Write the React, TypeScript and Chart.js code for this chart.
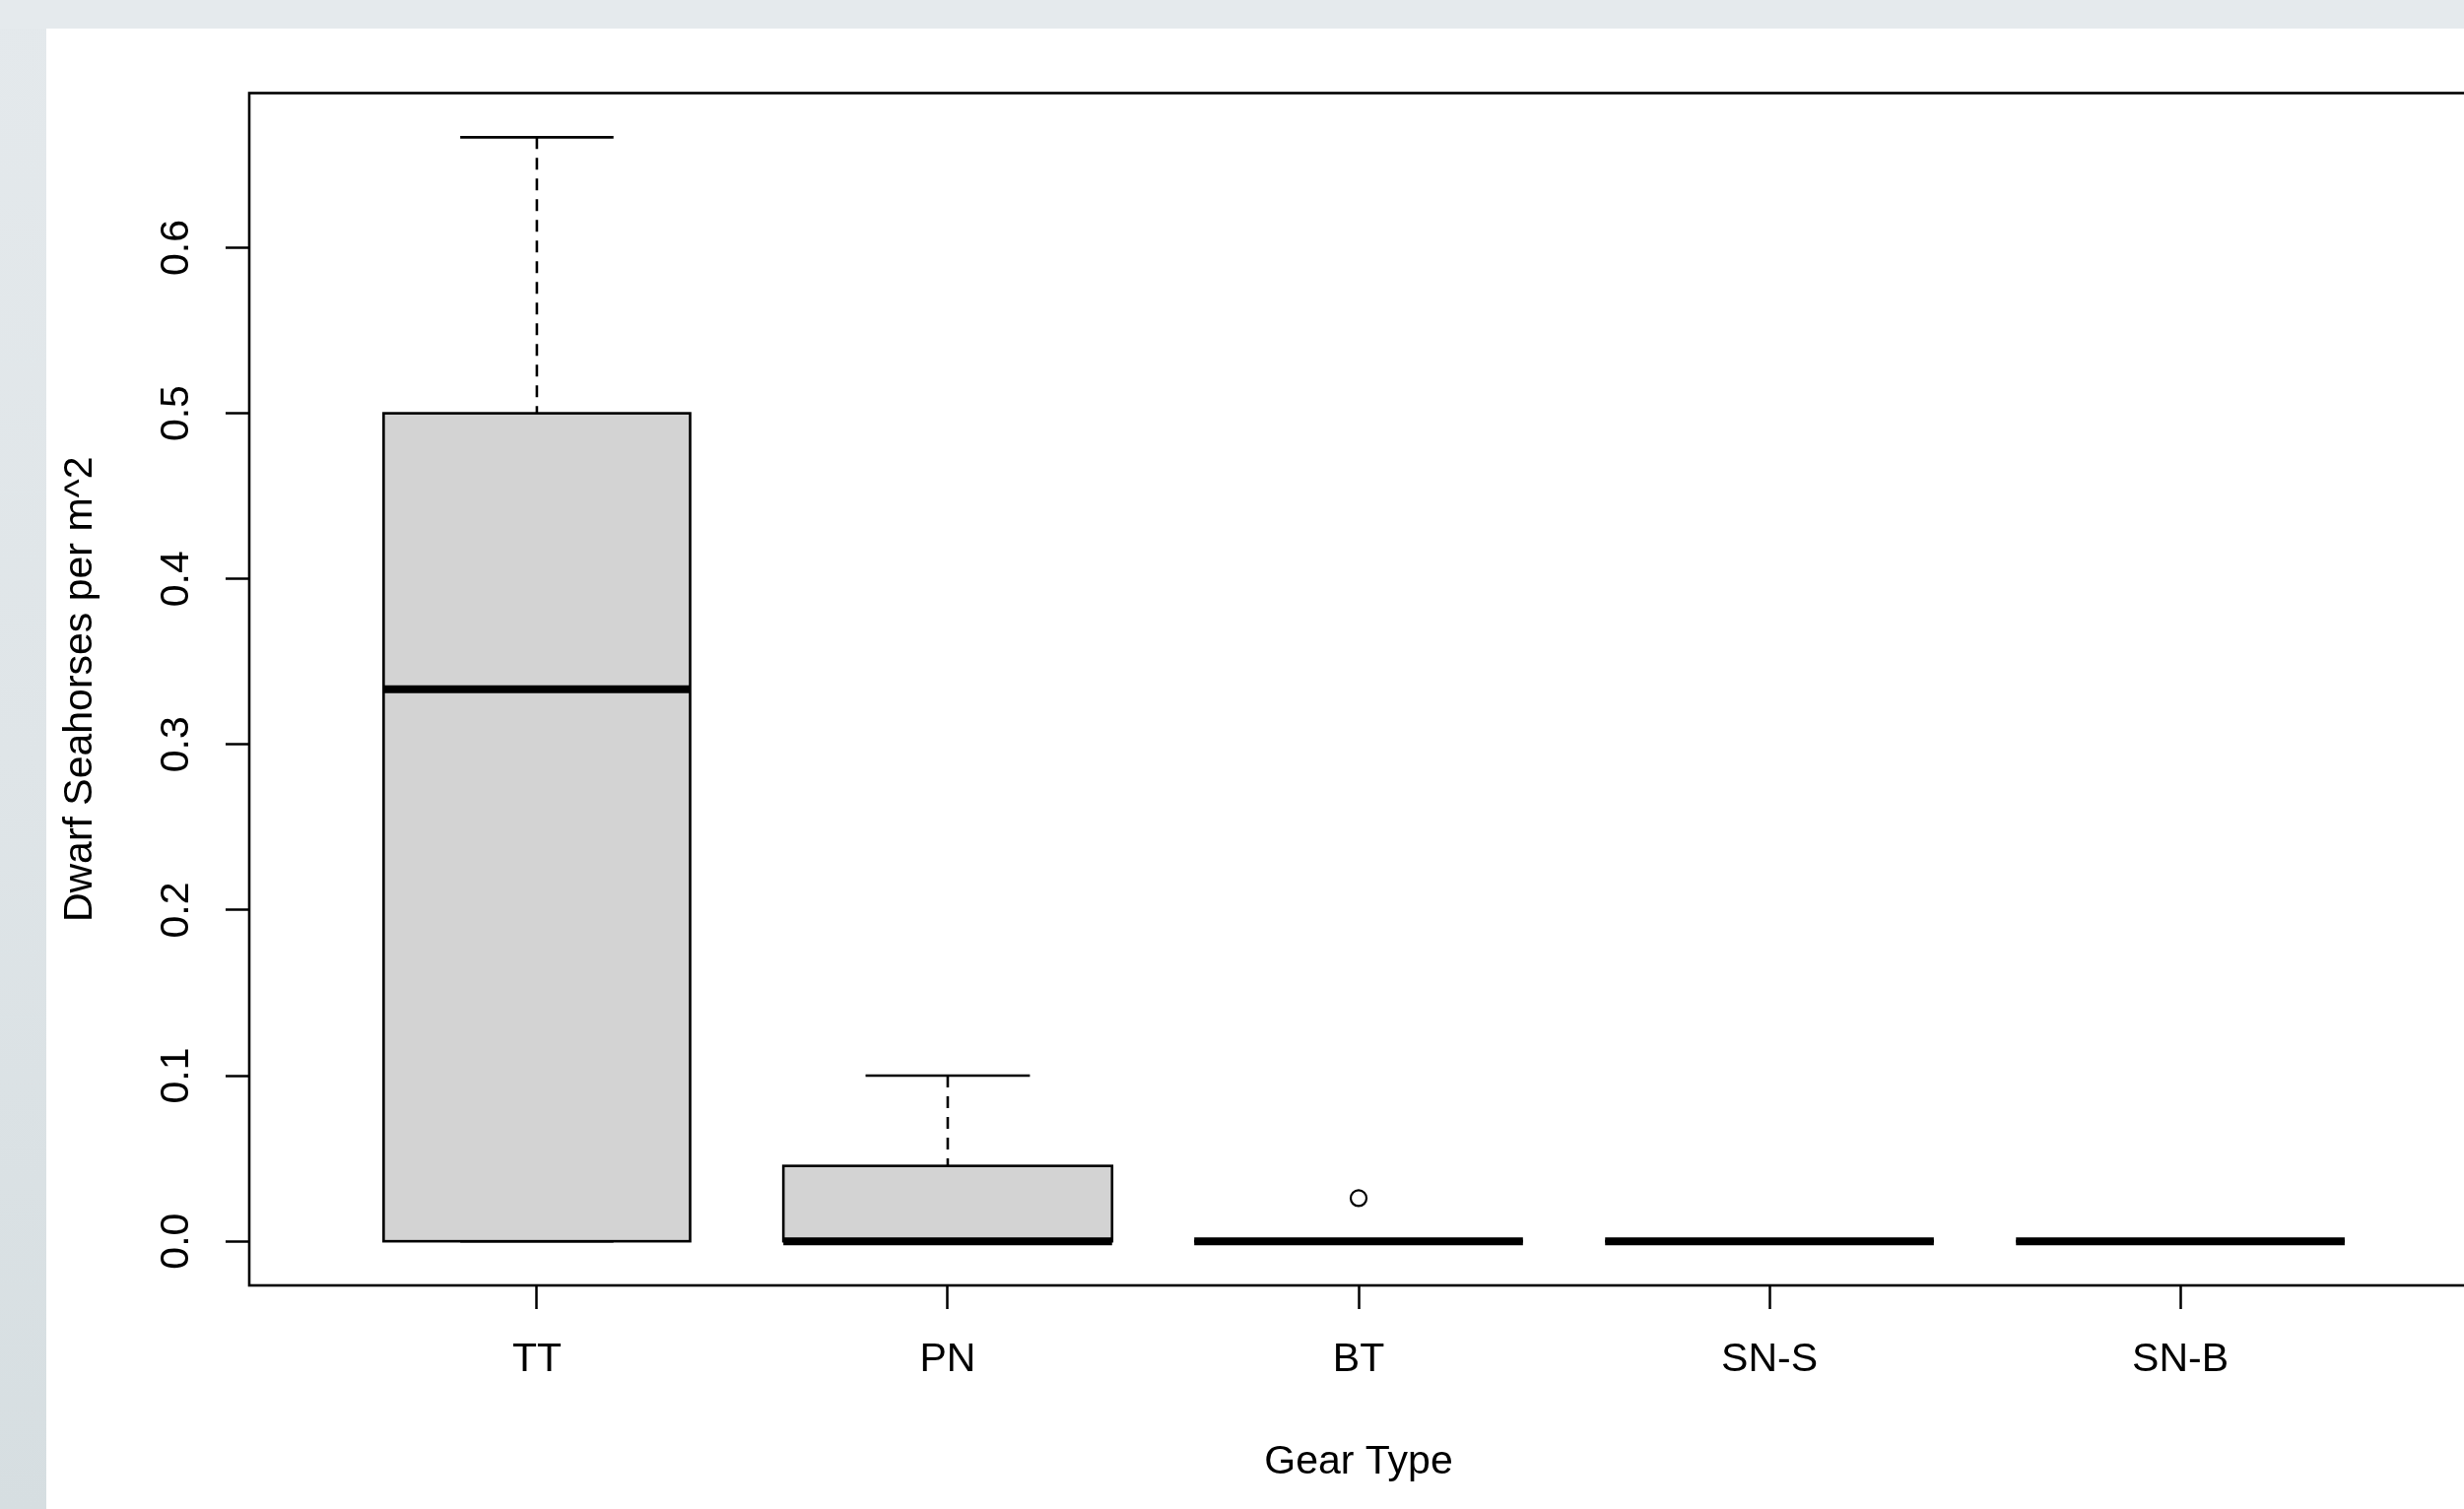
import React, { useEffect, useRef } from 'react';
import { Chart, registerables } from 'chart.js';

Chart.register(...registerables);

// ---- data ----
const CATEGORIES = ['TT', 'PN', 'BT', 'SN-S', 'SN-B'];
const WHISKER_LOW = [0, 0, 0, 0, 0];
const Q1 = [0, 0, 0, 0, 0];
const MEDIAN = [0.3333, 0, 0, 0, 0];
const Q3 = [0.5, 0.0455, 0, 0, 0];
const WHISKER_HIGH = [0.6667, 0.1, 0, 0, 0];
const OUTLIER_GROUP = [3];
const OUTLIER_VALUE = [0.026];
const Y_TICKS = [0, 0.1, 0.2, 0.3, 0.4, 0.5, 0.6];
const X_TITLE = 'Gear Type';
const Y_TITLE = 'Dwarf Seahorses per m^2';

// ---- styles ----
const BOX_WIDTHS = [0.746, 0.8, 0.8, 0.8, 0.8];
const FONT = '"Liberation Sans", Arial, sans-serif';
const FS = 41;
const CANVAS_W = 2510;
const CANVAS_H = 1532;

const yLo = Math.min(...WHISKER_LOW);
const yHi = Math.max(...WHISKER_HIGH);
const yPad = 0.04 * (yHi - yLo);
const xPad = 0.04 * CATEGORIES.length;

const boxPlugin = {
  id: 'boxPlugin',
  beforeDraw(chart: any) {
    const { ctx, width, height } = chart;
    ctx.save();
    ctx.fillStyle = '#e5eaed';
    ctx.fillRect(0, 0, width, height);
    const g = ctx.createLinearGradient(0, 0, 0, height);
    g.addColorStop(0, '#e4e9ec');
    g.addColorStop(0.5, '#dfe5e8');
    g.addColorStop(1, '#d6dee1');
    ctx.fillStyle = g;
    ctx.fillRect(0, 29, 47, height);
    ctx.fillStyle = '#ffffff';
    ctx.fillRect(47, 29, width, height);
    ctx.restore();
  },
  beforeDatasetsDraw(chart: any) {
    const { ctx, chartArea: a, scales } = chart;
    const x = scales.x;
    const y = scales.y;
    ctx.save();
    ctx.strokeStyle = '#000';
    ctx.lineCap = 'butt';
    CATEGORIES.forEach((_, i) => {
      const cx = x.getPixelForValue(i + 1);
      const half = (x.getPixelForValue(i + 1 + BOX_WIDTHS[i] / 2) - x.getPixelForValue(i + 1 - BOX_WIDTHS[i] / 2)) / 2;
      const yq1 = y.getPixelForValue(Q1[i]);
      const yq3 = y.getPixelForValue(Q3[i]);
      const ymed = y.getPixelForValue(MEDIAN[i]);
      const ylo = y.getPixelForValue(WHISKER_LOW[i]);
      const yhi = y.getPixelForValue(WHISKER_HIGH[i]);
      // whiskers (dashed)
      ctx.lineWidth = 2.6;
      ctx.setLineDash([12, 9]);
      ctx.beginPath();
      if (yhi < yq3) { ctx.moveTo(cx, yhi); ctx.lineTo(cx, yq3); }
      if (ylo > yq1) { ctx.moveTo(cx, ylo); ctx.lineTo(cx, yq1); }
      ctx.stroke();
      ctx.setLineDash([]);
      // staples
      ctx.beginPath();
      ctx.moveTo(cx - half / 2, yhi); ctx.lineTo(cx + half / 2, yhi);
      ctx.moveTo(cx - half / 2, ylo); ctx.lineTo(cx + half / 2, ylo);
      ctx.stroke();
      // box
      ctx.fillStyle = '#d3d3d3';
      ctx.fillRect(cx - half, yq3, 2 * half, yq1 - yq3);
      ctx.strokeRect(cx - half, yq3, 2 * half, yq1 - yq3);
      // median
      ctx.lineWidth = 8;
      ctx.beginPath();
      ctx.moveTo(cx - half, ymed); ctx.lineTo(cx + half, ymed);
      ctx.stroke();
    });
    // frame
    ctx.lineWidth = 2.6;
    ctx.strokeRect(a.left, a.top, a.right - a.left, a.bottom - a.top);
    ctx.restore();
  },
};

export default function App() {
  const ref = useRef<HTMLCanvasElement | null>(null);
  useEffect(() => {
    if (!ref.current) return;
    const chart = new Chart(ref.current, {
      type: 'scatter',
      data: {
        datasets: [
          {
            label: 'outliers',
            data: OUTLIER_GROUP.map((g, i) => ({ x: g, y: OUTLIER_VALUE[i] })),
            pointStyle: 'circle',
            pointRadius: 8,
            pointBorderWidth: 2.2,
            pointBorderColor: '#000',
            pointBackgroundColor: 'rgba(0,0,0,0)',
          },
        ],
      },
      options: {
        animation: false,
        responsive: false,
        maintainAspectRatio: false,
        devicePixelRatio: 1,
        events: [],
        layout: { autoPadding: false, padding: { left: 0, top: 94.5, right: 5, bottom: 0 } },
        plugins: { legend: { display: false }, tooltip: { enabled: false } },
        scales: {
          x: {
            type: 'linear',
            min: 0.5 - xPad,
            max: CATEGORIES.length + 0.5 + xPad,
            afterBuildTicks: (s: any) => { s.ticks = CATEGORIES.map((_, i) => ({ value: i + 1 })); },
            afterFit: (s: any) => { s.height = 227; },
            ticks: {
              autoSkip: false,
              maxRotation: 0,
              minRotation: 0,
              padding: 27,
              color: '#000',
              font: { family: FONT, size: FS },
              callback: (v: any) => CATEGORIES[Math.round(Number(v)) - 1],
            },
            grid: { display: true, drawOnChartArea: false, drawTicks: true, tickLength: 24, tickWidth: 2.5, tickColor: '#000' },
            border: { display: false },
            title: { display: true, text: X_TITLE, color: '#000', font: { family: FONT, size: FS }, padding: { top: 0, bottom: 23 } },
          },
          y: {
            type: 'linear',
            min: yLo - yPad,
            max: yHi + yPad,
            afterBuildTicks: (s: any) => { s.ticks = Y_TICKS.map((v) => ({ value: v })); },
            afterFit: (s: any) => { s.width = 253; },
            ticks: {
              autoSkip: false,
              minRotation: 90,
              maxRotation: 90,
              crossAlign: 'center',
              padding: 21,
              color: '#000',
              font: { family: FONT, size: FS },
              callback: (v: any) => Number(v).toFixed(1),
            },
            grid: { display: true, drawOnChartArea: false, drawTicks: true, tickLength: 24, tickWidth: 2.5, tickColor: '#000' },
            border: { display: false },
            title: { display: true, text: Y_TITLE, color: '#000', font: { family: FONT, size: FS }, padding: { top: 57, bottom: 0 } },
          },
        },
      },
      plugins: [boxPlugin],
    } as any);
    return () => chart.destroy();
  }, []);
  return (
    <div style={{ position: 'fixed', left: 0, top: 0, width: 2501, height: 1532, overflow: 'hidden' }}>
      <canvas ref={ref} width={CANVAS_W} height={CANVAS_H} style={{ display: 'block', width: CANVAS_W, height: CANVAS_H }} />
    </div>
  );
}
